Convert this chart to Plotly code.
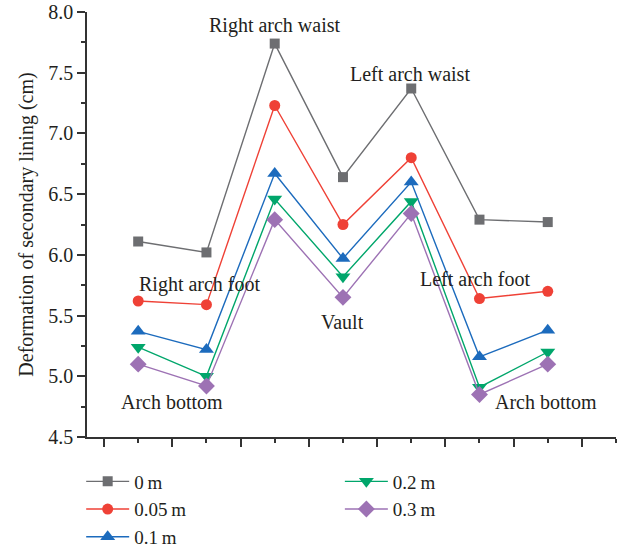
import plotly.graph_objects as go

# Measurement positions along the lining (1 = right arch bottom ... 7 = left arch bottom)
positions = [1, 2, 3, 4, 5, 6, 7]

# Deformation of secondary lining (cm) for each offset
series_names = ["0\u2009m", "0.05\u2009m", "0.1\u2009m", "0.2\u2009m", "0.3\u2009m"]
d_0 = [6.11, 6.02, 7.74, 6.64, 7.37, 6.29, 6.27]
d_005 = [5.62, 5.59, 7.23, 6.25, 6.80, 5.64, 5.70]
d_01 = [5.37, 5.22, 6.67, 5.97, 6.60, 5.16, 5.38]
d_02 = [5.24, 5.00, 6.46, 5.82, 6.44, 4.91, 5.20]
d_03 = [5.10, 4.92, 6.29, 5.65, 6.34, 4.85, 5.10]

colors = ["#6d6e71", "#ef4136", "#1c6bbd", "#00a66b", "#9d72b4"]
symbols = ["square", "circle", "triangle-up", "triangle-down", "diamond"]
sizes = [10, 11, 13, 13, 13]
legends = ["legend", "legend", "legend", "legend2", "legend2"]

# Position labels and where they sit (data coordinates)
label_text = ["Right arch waist", "Left arch waist", "Right arch foot", "Vault",
              "Left arch foot", "Arch bottom", "Arch bottom"]
label_x = [3.01, 4.98, 1.91, 4.0, 5.94, 1.50, 6.97]
label_y = [7.887, 7.49, 5.754, 5.448, 5.80, 4.787, 4.787]

serif = "Liberation Serif, Times New Roman, serif"
ink = "#231f20"

fig = go.Figure()
for name, vals, c, s, sz, lg in zip(series_names, [d_0, d_005, d_01, d_02, d_03],
                                    colors, symbols, sizes, legends):
    fig.add_trace(go.Scatter(
        x=positions, y=vals, name=name, mode="lines+markers",
        line=dict(color=c, width=1.4),
        marker=dict(symbol=s, size=sz, color=c, line=dict(width=0)),
        legend=lg,
    ))

for t, x, y in zip(label_text, label_x, label_y):
    fig.add_annotation(x=x, y=y, xref="x", yref="y", text=t, showarrow=False,
                       font=dict(family=serif, size=20, color=ink),
                       xanchor="center", yanchor="middle")

axis_line = "#333333"
legend_style = dict(yref="container", y=0.156, xanchor="left", yanchor="top",
                    orientation="v", bgcolor="rgba(0,0,0,0)", itemwidth=43,
                    tracegroupgap=0, font=dict(family=serif, size=19, color=ink))

fig.update_layout(
    width=622, height=548,
    margin=dict(l=87, r=6, t=12, b=111, autoexpand=False),
    paper_bgcolor="white", plot_bgcolor="white",
    font=dict(family=serif, size=20, color=ink),
    xaxis=dict(
        range=[0.25, 8.0], showgrid=False, zeroline=False,
        showline=True, linecolor=axis_line, linewidth=1.5,
        showticklabels=False, ticks="outside", ticklen=8, tickwidth=1.5,
        tickcolor=axis_line, tick0=0.5, dtick=1,
        minor=dict(ticks="outside", ticklen=4, tickwidth=1.5, tickcolor=axis_line,
                   tick0=0, dtick=1),
    ),
    yaxis=dict(
        range=[4.5, 8.0], showgrid=False, zeroline=False,
        showline=True, linecolor=axis_line, linewidth=1.5,
        ticks="outside", ticklen=8, tickwidth=1.5, tickcolor=axis_line,
        tick0=4.5, dtick=0.5, tickformat=".1f",
        tickfont=dict(family=serif, size=20, color=ink),
        minor=dict(ticks="outside", ticklen=4, tickwidth=1.5, tickcolor=axis_line,
                   tick0=4.5, dtick=0.25),
        title=dict(text="Deformation of secondary lining (cm)",
                   font=dict(family=serif, size=20, color=ink), standoff=9),
    ),
    legend=dict(x=-0.011, **legend_style),
    legend2=dict(x=0.478, **legend_style),
    showlegend=True,
)

fig.write_html("out.html")
